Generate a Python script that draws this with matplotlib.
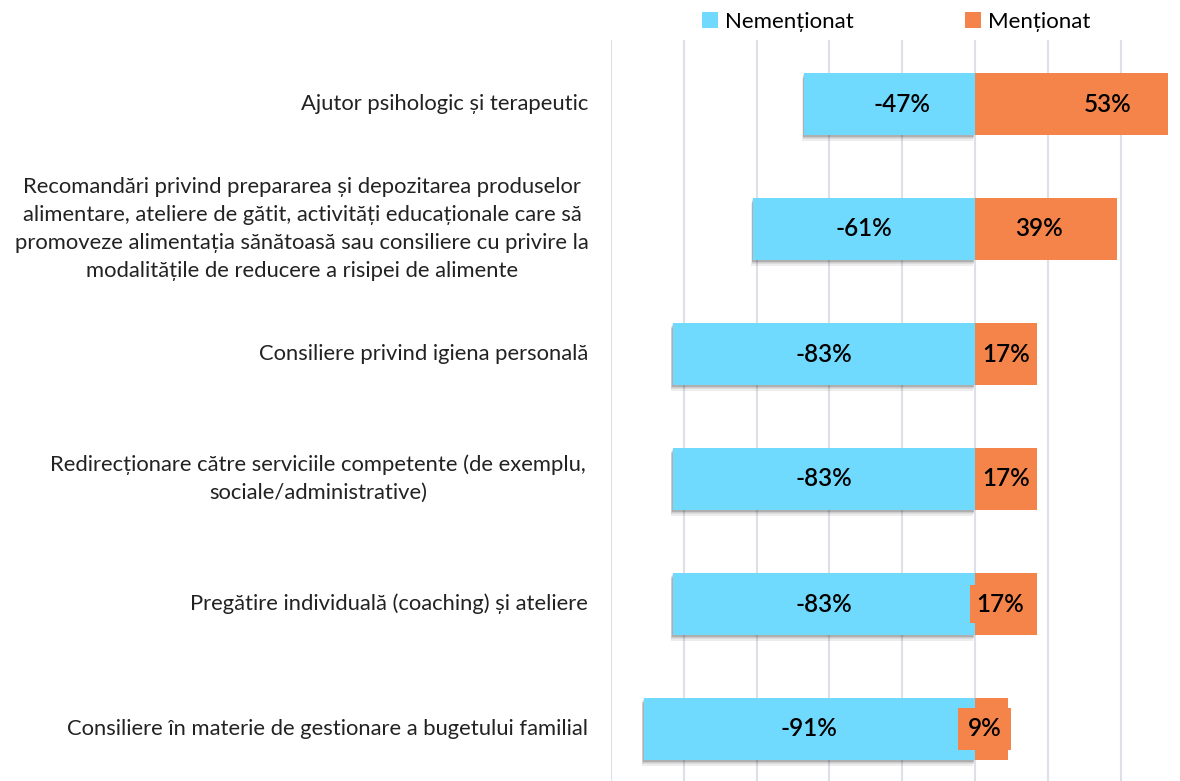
import matplotlib
matplotlib.use("Agg")
import matplotlib.pyplot as plt
import matplotlib.patheffects as pe

plt.rcParams['font.family'] = ['Lato', 'DejaVu Sans']

categories = [
    "Ajutor psihologic și terapeutic",
    "Recomandări privind prepararea și depozitarea produselor\nalimentare, ateliere de gătit, activități educaționale care să\npromoveze alimentația sănătoasă sau consiliere cu privire la\nmodalitățile de reducere a risipei de alimente",
    "Consiliere privind igiena personală",
    "Redirecționare către serviciile competente (de exemplu,\nsociale/administrative)",
    "Pregătire individuală (coaching) și ateliere",
    "Consiliere în materie de gestionare a bugetului familial",
]
nementionat = [-47, -61, -83, -83, -83, -91]
mentionat = [53, 39, 17, 17, 17, 9]
series_names = ["Nemenționat", "Menționat"]

blue = "#6fd9fe"
orange = "#f48449"

fig = plt.figure(figsize=(11.8, 7.81), dpi=100)
W, H = 1180, 781
ax = fig.add_axes([611 / W, 0, (1180 - 611) / W, (781 - 40) / H])

y = list(range(len(categories)))
shadow = [pe.SimplePatchShadow(offset=(dx, dy), alpha=0.07, shadow_rgbFace="#000000")
          for dx, dy in [(-0.5, -1), (-1, -2), (-1, -3), (-1.5, -4), (-0.5, -1.5)]] + [pe.Normal()]
bn = ax.barh(y, nementionat, height=0.5, color=blue, label=series_names[0], zorder=3)
for b in bn:
    b.set_path_effects(shadow)
bm = ax.barh(y, mentionat, height=0.5, color=orange, label=series_names[1], zorder=3)

ax.set_xlim(-100, 100 * (1180 - 975) / 364)
ax.set_ylim(5.416, -0.512)
ax.set_xticks(range(-100, 60, 20))
ax.grid(axis='x', color="#dde1e7", linewidth=1.5, zorder=0)
ax.tick_params(length=0, labelbottom=False, labelleft=False)
for s in ax.spines.values():
    s.set_visible(False)

# value labels
vfs = 17.5
vfw = 'semibold'
neg_off = [3.5, 0, 0, 0, 0, 0]
pos_off = [10, -2, 0, 0, 0, 0]
for i, (n, m) in enumerate(zip(nementionat, mentionat)):
    ax.text(n / 2 + neg_off[i], i, f"{n}%", ha='center', va='center', fontsize=vfs,
            fontweight=vfw, color="#000000", zorder=5)
    if i >= 4:
        ax.text(m / 2 + (-1.5 if i == 4 else -1.8), i, f"{m}%", ha='center', va='center', fontsize=vfs,
                fontweight=vfw, color="#000000", zorder=5,
                bbox=dict(facecolor=orange, edgecolor='none', pad=(5 if i == 4 else 7)))
    else:
        ax.text(m / 2 + pos_off[i], i, f"{m}%", ha='center', va='center', fontsize=vfs,
                fontweight=vfw, color="#000000", zorder=5)

# category labels
cfs = 15.8
ml_centers = {1: 302, 3: 318}
for i, c in enumerate(categories):
    yy = 1 - (104 + 125 * i) / H
    if "\n" in c:
        fig.text(ml_centers[i] / W, yy, c, ha='center', va='center',
                 fontsize=cfs, color="#222222", linespacing=1.5)
    else:
        fig.text(588 / W, yy, c, ha='right', va='center', fontsize=cfs, color="#222222")

# legend
leg = fig.legend(handles=[bn, bm], labels=series_names, loc='center', bbox_to_anchor=(896 / W, 1 - 22 / H),
                 ncol=2, frameon=False, fontsize=16, handlelength=0.75, handleheight=0.75,
                 handletextpad=0.3, columnspacing=5.0)
for h in leg.legend_handles:
    h.set_path_effects([])

fig.savefig("out.png", dpi=100)
